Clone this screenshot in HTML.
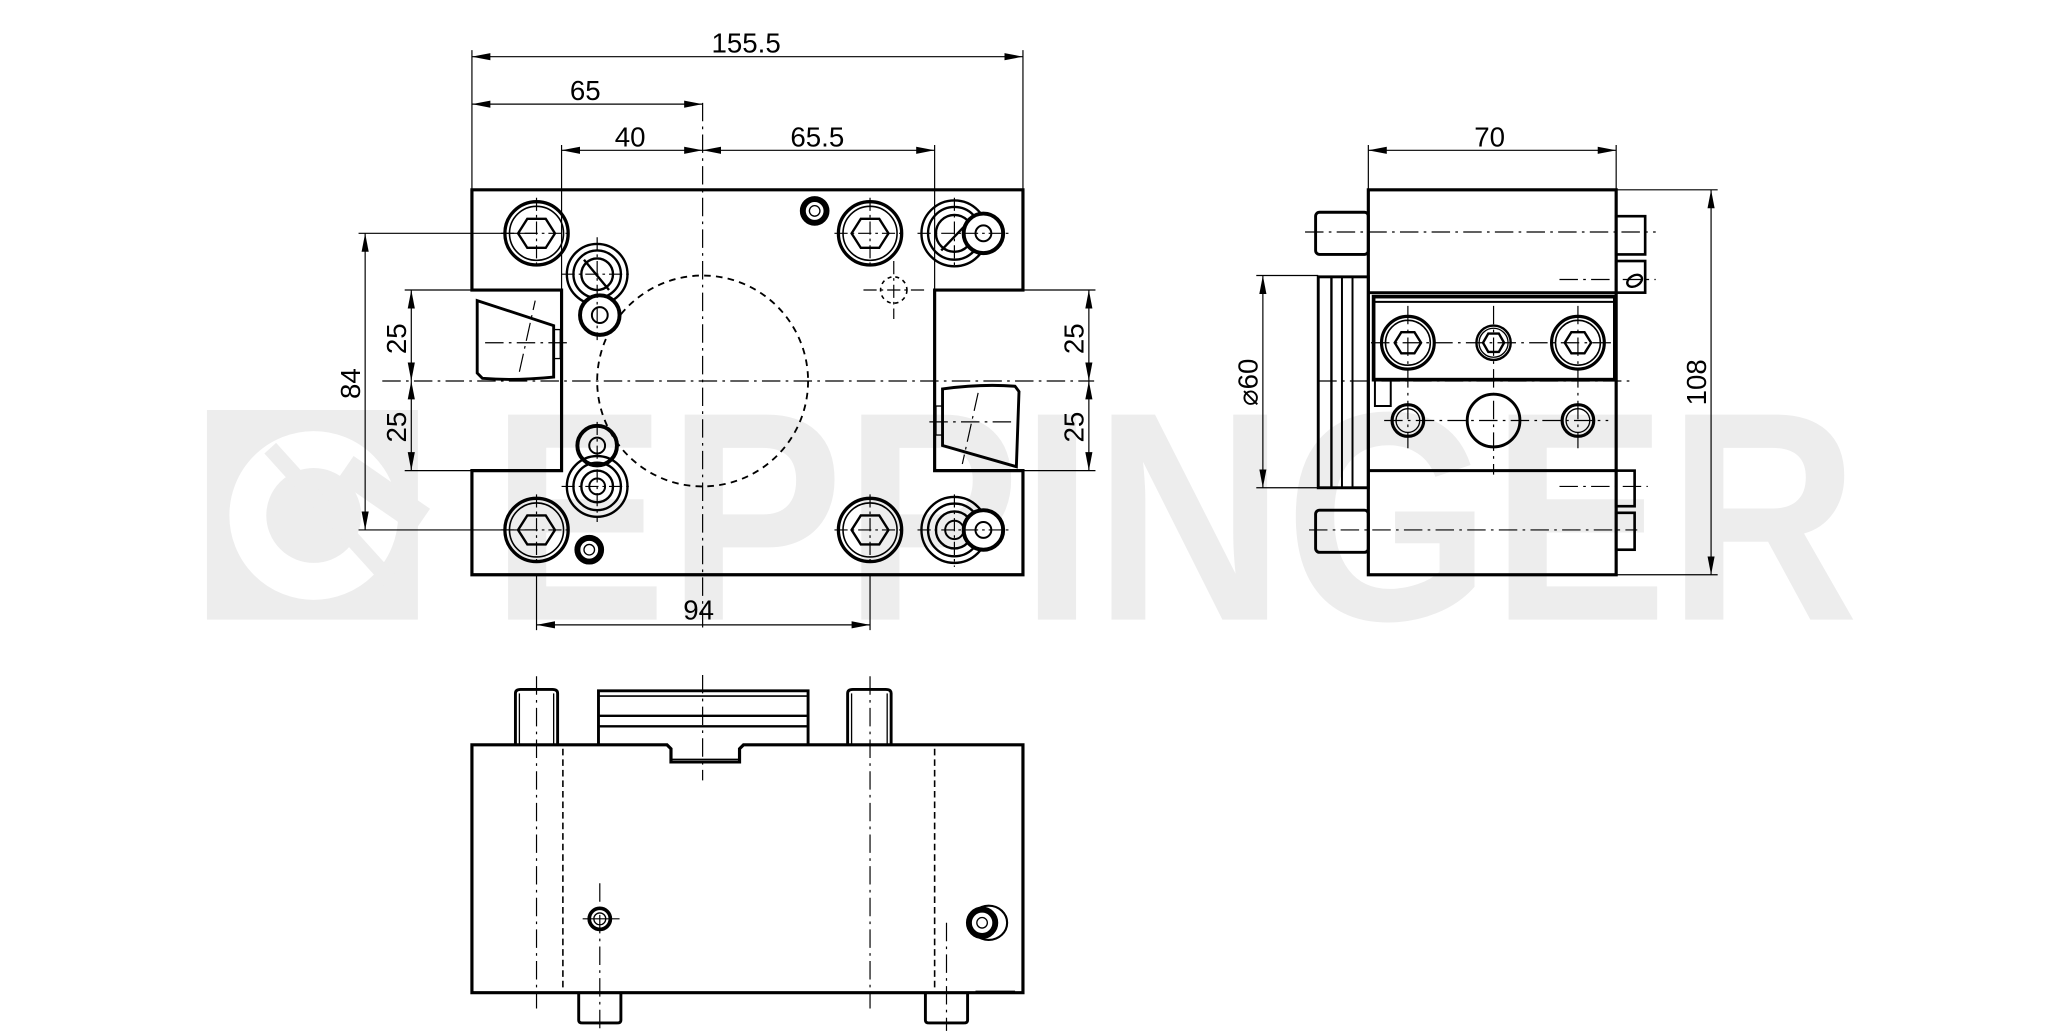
<!DOCTYPE html>
<html><head><meta charset="utf-8"><style>
html,body{margin:0;padding:0;background:#fff;}
svg{display:block;}
text{font-family:"Liberation Sans Narrow","Liberation Sans",sans-serif;font-size:21px;fill:#000;}
</style></head><body>
<svg width="2067" height="1033" viewBox="0 0 1568 783.6" preserveAspectRatio="none" xmlns="http://www.w3.org/2000/svg">
<defs>
<marker id="a" viewBox="0 0 14 6" refX="14" refY="3" markerWidth="14" markerHeight="6" markerUnits="userSpaceOnUse" orient="auto-start-reverse"><path d="M0,0.3 L14,3 L0,5.7 z" fill="#000"/></marker>
</defs>
<!-- watermark -->
<g fill="#ededed">
<rect x="157" y="311" width="160" height="159"/>
<text x="372" y="470" textLength="1038" lengthAdjust="spacingAndGlyphs" style="font-family:'Liberation Sans',sans-serif;font-weight:bold;font-size:226px;fill:#ededed">EPPINGER</text>
</g>
<circle cx="238" cy="391" r="50" fill="none" stroke="#fff" stroke-width="28"/>
<line x1="205" y1="340" x2="300" y2="445" stroke="#ededed" stroke-width="12"/>
<line x1="262" y1="355" x2="320" y2="395" stroke="#ededed" stroke-width="22"/>

<g fill="none" stroke="#000">
<!-- ===== TOP VIEW ===== -->
<path d="M358,144 H776 V220 H709 V357 H776 V436 H358 V357 H426 V220 H358 Z" stroke-width="2.4"/>
<g stroke-width="0.9" stroke-dasharray="14,4,2,4">
<line x1="533" y1="78" x2="533" y2="480"/>
<line x1="290" y1="289" x2="830" y2="289"/>
<line x1="368" y1="260" x2="432" y2="260"/>
<line x1="705" y1="320" x2="768" y2="320"/>
<line x1="394" y1="282" x2="406" y2="228"/>
<line x1="742" y1="298" x2="730" y2="352"/>
</g>
<circle cx="533" cy="289" r="80" stroke-width="1.4" stroke-dasharray="5,4"/>
<!-- wedges -->
<path d="M362,228 L420,247 L420,286 Q390,289 366,287 L362,283 Z" stroke-width="2.2"/>
<rect x="420" y="250" width="5" height="22" stroke-width="1"/>
<path d="M771,354 L715,338 L715,295 Q745,291 770,293 L773,297 Z" stroke-width="2.2"/>
<rect x="710" y="308" width="5" height="22" stroke-width="1"/>
<!-- dims -->
<g stroke-width="0.9">
<line x1="358" y1="38" x2="358" y2="144"/><line x1="776" y1="38" x2="776" y2="144"/>
<line x1="358" y1="43" x2="776" y2="43" marker-start="url(#a)" marker-end="url(#a)"/>
<line x1="358" y1="79" x2="533" y2="79" marker-start="url(#a)" marker-end="url(#a)"/>
<line x1="426" y1="110" x2="426" y2="220"/><line x1="709" y1="110" x2="709" y2="220"/>
<line x1="426" y1="114" x2="533" y2="114" marker-start="url(#a)" marker-end="url(#a)"/>
<line x1="533" y1="114" x2="709" y2="114" marker-start="url(#a)" marker-end="url(#a)"/>
<line x1="407" y1="436" x2="407" y2="478"/><line x1="660" y1="436" x2="660" y2="478"/>
<line x1="407" y1="474" x2="660" y2="474" marker-start="url(#a)" marker-end="url(#a)"/>
<line x1="272" y1="177" x2="407" y2="177"/><line x1="272" y1="402" x2="407" y2="402"/>
<line x1="277" y1="177" x2="277" y2="402" marker-start="url(#a)" marker-end="url(#a)"/>
<line x1="307" y1="220" x2="358" y2="220"/><line x1="307" y1="357" x2="358" y2="357"/>
<line x1="312" y1="220" x2="312" y2="289" marker-start="url(#a)" marker-end="url(#a)"/>
<line x1="312" y1="289" x2="312" y2="357" marker-start="url(#a)" marker-end="url(#a)"/>
<line x1="776" y1="220" x2="831" y2="220"/><line x1="776" y1="357" x2="831" y2="357"/>
<line x1="826" y1="220" x2="826" y2="289" marker-start="url(#a)" marker-end="url(#a)"/>
<line x1="826" y1="289" x2="826" y2="357" marker-start="url(#a)" marker-end="url(#a)"/>
</g>
<!-- bolts -->
<circle cx="407" cy="177" r="24" stroke-width="2.5"/><circle cx="407" cy="177" r="20.5" stroke-width="1.2"/>
<path d="M393,177 L400,166 L414,166 L421,177 L414,188 L400,188 Z" stroke-width="1.8"/>
<circle cx="407" cy="402" r="24" stroke-width="2.5"/><circle cx="407" cy="402" r="20.5" stroke-width="1.2"/>
<path d="M393,402 L400,391 L414,391 L421,402 L414,413 L400,413 Z" stroke-width="1.8"/>
<circle cx="660" cy="177" r="24" stroke-width="2.5"/><circle cx="660" cy="177" r="20.5" stroke-width="1.2"/>
<path d="M646,177 L653,166 L667,166 L674,177 L667,188 L653,188 Z" stroke-width="1.8"/>
<circle cx="660" cy="402" r="24" stroke-width="2.5"/><circle cx="660" cy="402" r="20.5" stroke-width="1.2"/>
<path d="M646,402 L653,391 L667,391 L674,402 L667,413 L653,413 Z" stroke-width="1.8"/>
<!-- small features -->
<circle cx="453" cy="208" r="23" stroke-width="1.8"/><circle cx="453" cy="208" r="18" stroke-width="1.8"/><circle cx="453" cy="208" r="12" stroke-width="1.8"/>
<line x1="443" y1="197" x2="462" y2="220" stroke-width="1.8"/>
<circle cx="455" cy="239" r="15" fill="#fff" stroke-width="3"/><circle cx="455" cy="239" r="6" stroke-width="1.5"/>
<circle cx="453" cy="338" r="15" stroke-width="3"/><circle cx="453" cy="338" r="6" stroke-width="1.5"/>
<circle cx="453" cy="369" r="23" stroke-width="1.8"/><circle cx="453" cy="369" r="18" stroke-width="1.8"/><circle cx="453" cy="369" r="12" stroke-width="1.8"/><circle cx="453" cy="369" r="6" stroke-width="1.5"/>
<circle cx="447" cy="417" r="9" stroke-width="4.5"/><circle cx="447" cy="417" r="4" stroke-width="1"/>
<circle cx="618" cy="160" r="9" stroke-width="4.5"/><circle cx="618" cy="160" r="4" stroke-width="1"/>
<circle cx="724" cy="177" r="25" stroke-width="1.8"/><circle cx="724" cy="177" r="20" stroke-width="1.8"/><circle cx="724" cy="177" r="14" stroke-width="1.8"/>
<line x1="714" y1="190" x2="737" y2="166" stroke-width="1.8"/>
<circle cx="746" cy="177" r="15" fill="#fff" stroke-width="3"/><circle cx="746" cy="177" r="6" stroke-width="1.5"/>
<circle cx="724" cy="402" r="25" stroke-width="1.8"/><circle cx="724" cy="402" r="20" stroke-width="1.8"/><circle cx="724" cy="402" r="14" stroke-width="1.8"/><circle cx="724" cy="402" r="7" stroke-width="1.5"/>
<circle cx="746" cy="402" r="15" fill="#fff" stroke-width="3"/><circle cx="746" cy="402" r="6" stroke-width="1.5"/>
<circle cx="678" cy="220" r="10" stroke-width="1.2" stroke-dasharray="3,3"/>
<g stroke-width="0.9" stroke-dasharray="10,3,2,3">
<line x1="380" y1="177" x2="434" y2="177"/><line x1="407" y1="150" x2="407" y2="204"/>
<line x1="380" y1="402" x2="434" y2="402"/><line x1="407" y1="375" x2="407" y2="429"/>
<line x1="633" y1="177" x2="687" y2="177"/><line x1="660" y1="150" x2="660" y2="204"/>
<line x1="633" y1="402" x2="687" y2="402"/><line x1="660" y1="375" x2="660" y2="429"/>
<line x1="426" y1="208" x2="480" y2="208"/><line x1="453" y1="180" x2="453" y2="258"/>
<line x1="426" y1="369" x2="480" y2="369"/><line x1="453" y1="320" x2="453" y2="396"/>
<line x1="696" y1="177" x2="766" y2="177"/><line x1="724" y1="150" x2="724" y2="204"/>
<line x1="696" y1="402" x2="766" y2="402"/><line x1="724" y1="375" x2="724" y2="430"/>
<line x1="655" y1="220" x2="701" y2="220"/><line x1="678" y1="198" x2="678" y2="242"/>
</g>
<text x="566" y="40" text-anchor="middle" stroke="none">155.5</text>
<text x="444" y="76" text-anchor="middle" stroke="none">65</text>
<text x="478" y="111" text-anchor="middle" stroke="none">40</text>
<text x="620" y="111" text-anchor="middle" stroke="none">65.5</text>
<text x="530" y="470" text-anchor="middle" stroke="none">94</text>
<text transform="translate(273,291) rotate(-90)" text-anchor="middle" stroke="none">84</text>
<text transform="translate(308,257) rotate(-90)" text-anchor="middle" stroke="none">25</text>
<text transform="translate(308,324) rotate(-90)" text-anchor="middle" stroke="none">25</text>
<text transform="translate(822,257) rotate(-90)" text-anchor="middle" stroke="none">25</text>
<text transform="translate(822,324) rotate(-90)" text-anchor="middle" stroke="none">25</text>

<!-- ===== SIDE VIEW ===== -->
<rect x="1038" y="144" width="188" height="292" stroke-width="2.4"/>
<line x1="1038" y1="222" x2="1226" y2="222" stroke-width="2.2"/>
<rect x="1042" y="225" width="183" height="63" stroke-width="2.8" fill="#fff"/>
<line x1="1042" y1="229" x2="1225" y2="229" stroke-width="1.5"/>
<path d="M1043,288 V308 H1055 V288" stroke-width="1.5"/>
<line x1="1038" y1="357" x2="1226" y2="357" stroke-width="2.2"/>
<rect x="998" y="161" width="40" height="32" rx="3" stroke-width="2.2"/>
<rect x="998" y="387" width="40" height="32" rx="3" stroke-width="2.2"/>
<rect x="1226" y="164" width="22" height="29" stroke-width="2"/>
<rect x="1226" y="198" width="22" height="24" stroke-width="2"/>
<ellipse cx="1240" cy="213" rx="6" ry="4" transform="rotate(-30 1240 213)" stroke-width="1.8"/>
<rect x="1226" y="357" width="14" height="27" stroke-width="2"/>
<rect x="1226" y="389" width="14" height="28" stroke-width="2"/>
<rect x="1000" y="210" width="38" height="160" stroke-width="2.2"/>
<line x1="1010" y1="210" x2="1010" y2="370" stroke-width="1.8"/>
<line x1="1018" y1="210" x2="1018" y2="370" stroke-width="1.5"/>
<line x1="1026" y1="210" x2="1026" y2="370" stroke-width="1.5"/>
<circle cx="1068" cy="260" r="20" stroke-width="2.4"/><circle cx="1068" cy="260" r="17" stroke-width="1.2"/>
<path d="M1058,260 L1063,252 L1073,252 L1078,260 L1073,268 L1063,268 Z" stroke-width="1.8"/>
<circle cx="1133" cy="260" r="13" stroke-width="1.8"/><circle cx="1133" cy="260" r="11" stroke-width="1"/>
<path d="M1125,260 L1129,253 L1137,253 L1141,260 L1137,267 L1129,267 Z" stroke-width="1.8"/>
<circle cx="1197" cy="260" r="20" stroke-width="2.4"/><circle cx="1197" cy="260" r="17" stroke-width="1.2"/>
<path d="M1187,260 L1192,252 L1202,252 L1207,260 L1202,268 L1192,268 Z" stroke-width="1.8"/>
<circle cx="1068" cy="319" r="12" stroke-width="2.4"/><circle cx="1068" cy="319" r="9" stroke-width="1"/>
<circle cx="1133" cy="319" r="20" stroke-width="2.2"/>
<circle cx="1197" cy="319" r="12" stroke-width="2.4"/><circle cx="1197" cy="319" r="9" stroke-width="1"/>
<g stroke-width="0.9" stroke-dasharray="14,4,2,4">
<line x1="990" y1="176" x2="1256" y2="176"/>
<line x1="1000" y1="289" x2="1240" y2="289"/>
<line x1="1040" y1="260" x2="1222" y2="260"/>
<line x1="1050" y1="319" x2="1220" y2="319"/>
<line x1="993" y1="402" x2="1242" y2="402"/>
<line x1="1183" y1="212" x2="1256" y2="212"/>
<line x1="1183" y1="369" x2="1250" y2="369"/>
<line x1="1068" y1="232" x2="1068" y2="340"/>
<line x1="1133" y1="232" x2="1133" y2="360"/>
<line x1="1197" y1="232" x2="1197" y2="340"/>
</g>
<g stroke-width="0.9">
<line x1="1038" y1="110" x2="1038" y2="144"/><line x1="1226" y1="110" x2="1226" y2="144"/>
<line x1="1038" y1="114" x2="1226" y2="114" marker-start="url(#a)" marker-end="url(#a)"/>
<line x1="1226" y1="144" x2="1303" y2="144"/><line x1="1226" y1="436" x2="1303" y2="436"/>
<line x1="1298" y1="144" x2="1298" y2="436" marker-start="url(#a)" marker-end="url(#a)"/>
<line x1="953" y1="209" x2="1000" y2="209"/><line x1="953" y1="370" x2="1000" y2="370"/>
<line x1="958" y1="209" x2="958" y2="370" marker-start="url(#a)" marker-end="url(#a)"/>
</g>
<text x="1130" y="111" text-anchor="middle" stroke="none">70</text>
<text transform="translate(1294,290) rotate(-90)" text-anchor="middle" stroke="none">108</text>
<text transform="translate(954,290) rotate(-90)" text-anchor="middle" stroke="none">⌀60</text>

<!-- ===== BOTTOM VIEW ===== -->
<path d="M358,565 H506 L509,568 V578 H561 V568 L564,565 H776 V753 H358 Z" stroke-width="2.4"/>
<line x1="509" y1="576" x2="561" y2="576" stroke-width="1"/>
<path d="M391,565 V526 Q391,523 395,523 H419 Q423,523 423,526 V565" stroke-width="2.2"/>
<line x1="394" y1="526" x2="394" y2="565" stroke-width="1"/><line x1="420" y1="526" x2="420" y2="565" stroke-width="1"/>
<path d="M643,565 V526 Q643,523 647,523 H672 Q676,523 676,526 V565" stroke-width="2.2"/>
<line x1="646" y1="526" x2="646" y2="565" stroke-width="1"/><line x1="673" y1="526" x2="673" y2="565" stroke-width="1"/>
<path d="M454,565 V524 H613 V565" stroke-width="2.2"/>
<line x1="454" y1="528" x2="613" y2="528" stroke-width="1.2"/>
<line x1="454" y1="543" x2="613" y2="543" stroke-width="1.8"/>
<line x1="454" y1="551" x2="613" y2="551" stroke-width="1.8"/>
<path d="M439,753 V774 Q439,776 442,776 H468 Q471,776 471,774 V753" stroke-width="2.2"/>
<path d="M702,753 V774 Q702,776 705,776 H731 Q734,776 734,774 V753" stroke-width="2.2"/>
<line x1="740" y1="752" x2="770" y2="752" stroke-width="1"/>
<g stroke-width="0.9" stroke-dasharray="14,4,2,4">
<line x1="407" y1="513" x2="407" y2="765"/>
<line x1="660" y1="513" x2="660" y2="765"/>
<line x1="533" y1="512" x2="533" y2="592"/>
<line x1="455" y1="670" x2="455" y2="780"/>
<line x1="718" y1="700" x2="718" y2="782"/>
</g>
<g stroke-width="1.2" stroke-dasharray="5,3">
<line x1="427" y1="568" x2="427" y2="752"/>
<line x1="709" y1="568" x2="709" y2="752"/>
</g>
<line x1="442" y1="697" x2="470" y2="697" stroke-width="0.9"/>
<circle cx="455" cy="697" r="8" stroke-width="2.8"/><circle cx="455" cy="697" r="4.5" stroke-width="1"/>
<ellipse cx="750" cy="700" rx="14" ry="13" stroke-width="1.6"/>
<circle cx="745" cy="700" r="10" stroke-width="4.5"/><circle cx="745" cy="700" r="4" stroke-width="1"/>
</g>
</svg>
</body></html>
